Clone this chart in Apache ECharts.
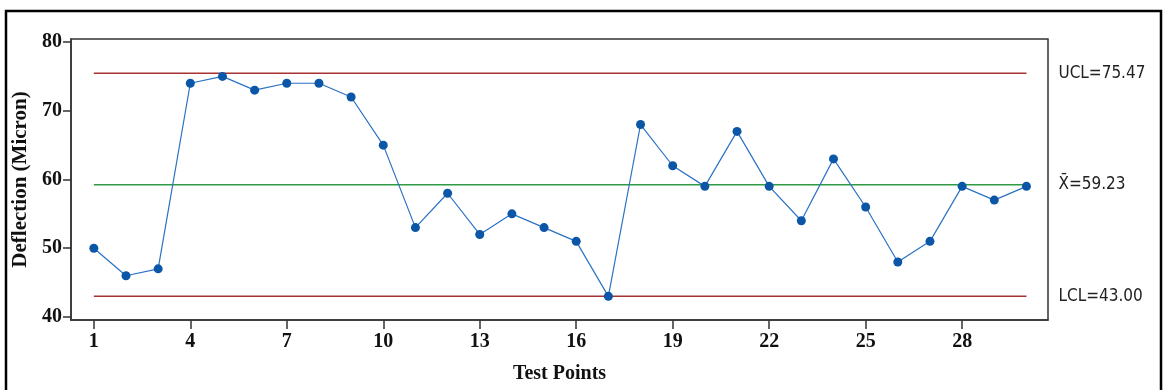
<!DOCTYPE html>
<html>
<head>
<meta charset="utf-8">
<script src="https://cdn.jsdelivr.net/npm/echarts@6/dist/echarts.min.js"></script>
<style>html,body{margin:0;padding:0;background:#fff;}#c{width:1164px;height:390px;}</style>
</head>
<body>
<div id="c"></div>
<script>
var testPoints = [1,2,3,4,5,6,7,8,9,10,11,12,13,14,15,16,17,18,19,20,21,22,23,24,25,26,27,28,29,30];
var deflection = [50,46,47,74,75,73,74,74,72,65,53,58,52,55,53,51,43,68,62,59,67,59,54,63,56,48,51,59,57,59];
var UCL = 75.47, CL = 59.23, LCL = 43.00;
var limitLabels = ['UCL=75.47', 'X\u0304=59.23', 'LCL=43.00'];
var xTicks = [1,4,7,10,13,16,19,22,25,28];
var yTicks = [40,50,60,70,80];

var chart = echarts.init(document.getElementById('c'));
var serif = '"Liberation Serif","Times New Roman",serif';
var sans = '"Liberation Sans Narrow","DejaVu Sans Condensed","Liberation Sans",sans-serif';

function limitSeries(v, label, color) {
  return {
    type: 'line',
    data: [[testPoints[0], v], [testPoints[testPoints.length-1], v]],
    symbol: 'none',
    silent: true,
    animation: false,
    z: 1,
    lineStyle: {color: color, width: 1.5},
    endLabel: {
      show: true, formatter: label, distance: 32,
      fontFamily: sans, fontSize: 17, color: '#222'
    }
  };
}

chart.setOption({
  animation: false,
  graphic: [{
    type: 'rect', shape: {x: 6, y: 11, width: 1155, height: 400},
    style: {fill: 'none', stroke: '#000', lineWidth: 2.5}, z: 100
  }],
  grid: {left: 71, top: 39, right: 116, bottom: 70, show: true, borderColor: '#333', borderWidth: 1.5,
         containLabel: false, outerBoundsMode: 'none'},
  xAxis: {
    type: 'value', min: 0.29, max: 30.67,
    name: 'Test Points', nameLocation: 'middle', nameGap: 44,
    nameTextStyle: {fontFamily: serif, fontWeight: 'bold', fontSize: 20, color: '#111'},
    axisLine: {show: true, lineStyle: {color: '#333', width: 1.5}},
    axisTick: {show: true, customValues: xTicks, length: 9, lineStyle: {color: '#333', width: 1.5}},
    axisLabel: {customValues: xTicks, fontFamily: serif, fontWeight: 'bold', fontSize: 20, color: '#111', margin: 12},
    splitLine: {show: false}
  },
  yAxis: {
    type: 'value', min: 39.56, max: 80.44,
    name: 'Deflection (Micron)', nameLocation: 'middle', nameGap: 40,
    nameTextStyle: {fontFamily: serif, fontWeight: 'bold', fontSize: 21, color: '#111'},
    axisLine: {show: true, lineStyle: {color: '#333', width: 1.5}},
    axisTick: {show: true, customValues: yTicks, length: 8, lineStyle: {color: '#333', width: 1.5}},
    axisLabel: {customValues: yTicks, fontFamily: serif, fontWeight: 'bold', fontSize: 20, color: '#111', margin: 9},
    splitLine: {show: false}
  },
  series: [
    limitSeries(UCL, limitLabels[0], '#a83232'),
    limitSeries(CL, limitLabels[1], '#2e9a44'),
    limitSeries(LCL, limitLabels[2], '#a83232'),
    {
      type: 'line',
      data: testPoints.map(function (t, i) { return [t, deflection[i]]; }),
      symbol: 'circle', symbolSize: 9,
      z: 5,
      lineStyle: {color: '#2a72c4', width: 1.2},
      itemStyle: {color: '#0b56a6'}
    }
  ]
});
</script>
</body>
</html>
